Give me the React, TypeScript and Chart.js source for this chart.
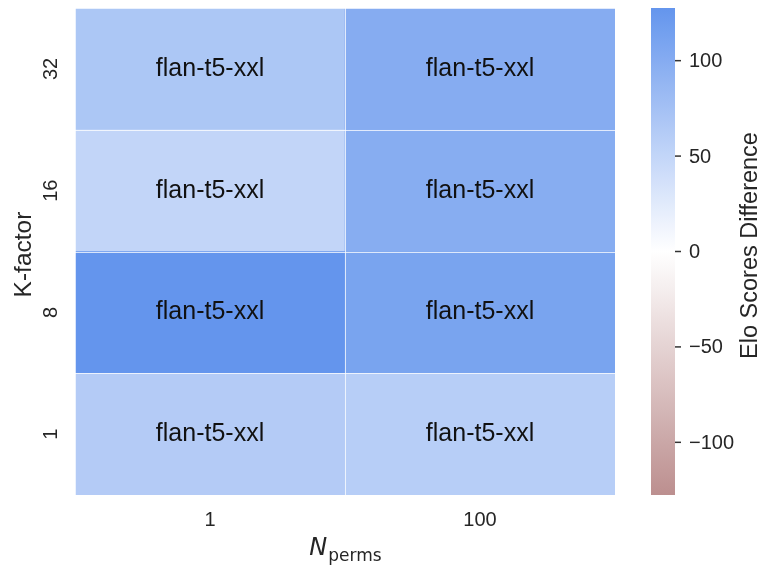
import React, { useEffect, useRef } from 'react';
import { Chart, registerables } from 'chart.js';

Chart.register(...registerables);

// ---- data ----
const nPerms = ['1', '100'];
const kFactors = ['1', '8', '16', '32']; // bottom to top
const cellLabel = 'flan-t5-xxl';
const eloK1 = [62, 59];
const eloK8 = [127.6, 110];
const eloK16 = [50, 99];
const eloK32 = [68, 100];
const colorbarTicks = [100, 50, 0, -50, -100];
const vLimit = 127.6;
const xTitleMain = 'N';
const xTitleSub = 'perms';
const yTitle = 'K-factor';
const cbTitle = 'Elo Scores Difference';

const rows = [eloK1, eloK8, eloK16, eloK32];

const NEG = [188, 143, 143];
const MID = [255, 255, 255];
const POS = [100, 149, 237];

function colorFor(v: number): string {
  let t = (v + vLimit) / (2 * vLimit);
  t = Math.max(0, Math.min(1, t));
  let a: number[], b: number[], f: number;
  if (t < 0.5) { a = NEG; b = MID; f = t / 0.5; } else { a = MID; b = POS; f = (t - 0.5) / 0.5; }
  const c = a.map((x, i) => Math.round(x + (b[i] - x) * f));
  return `rgb(${c[0]},${c[1]},${c[2]})`;
}

const SANS = '"Liberation Sans", Arial, sans-serif';
const TEXT = '#262626';

const heatPlugin = {
  id: 'heatExtras',
  afterDraw(chart: any) {
    const ctx: CanvasRenderingContext2D = chart.ctx;
    const xs = chart.scales.x;
    const ys = chart.scales.y;
    const cb = chart.scales.cb;
    const area = chart.chartArea;
    ctx.save();

    // cell separators
    ctx.strokeStyle = 'rgba(255,255,255,0.75)';
    ctx.lineWidth = 1;
    const xb: number[] = [area.left];
    for (let i = 0; i < nPerms.length - 1; i++) {
      xb.push((xs.getPixelForValue(i) + xs.getPixelForValue(i + 1)) / 2);
    }
    xb.push(area.right);
    xb.forEach((x) => {
      ctx.beginPath();
      ctx.moveTo(Math.round(x) + 0.5, area.top);
      ctx.lineTo(Math.round(x) + 0.5, area.bottom);
      ctx.stroke();
    });
    for (let r = 0; r <= kFactors.length; r++) {
      const y = Math.round(ys.getPixelForValue(r)) + 0.5;
      ctx.beginPath();
      ctx.moveTo(area.left, y);
      ctx.lineTo(area.right, y);
      ctx.stroke();
    }

    // annotations
    ctx.fillStyle = '#111';
    ctx.font = `25px ${SANS}`;
    ctx.textAlign = 'center';
    ctx.textBaseline = 'alphabetic';
    rows.forEach((vals, r) => {
      vals.forEach((_, c) => {
        const x = xs.getPixelForValue(c);
        const y = ys.getPixelForValue(r + 0.5);
        ctx.fillText(cellLabel, x, y + 7);
      });
    });

    // x tick labels
    ctx.fillStyle = TEXT;
    ctx.font = `20px ${SANS}`;
    nPerms.forEach((lab, c) => {
      ctx.fillText(lab, xs.getPixelForValue(c), area.bottom + 31);
    });

    // y tick labels (rotated)
    kFactors.forEach((lab, r) => {
      const y = ys.getPixelForValue(r + 0.5);
      ctx.save();
      ctx.translate(57, y);
      ctx.rotate(-Math.PI / 2);
      ctx.fillText(lab, 0, 0);
      ctx.restore();
    });

    // y title
    ctx.font = `24.5px ${SANS}`;
    ctx.save();
    ctx.translate(31, (area.top + area.bottom) / 2 + 3);
    ctx.rotate(-Math.PI / 2);
    ctx.fillText(yTitle, 0, 0);
    ctx.restore();

    // x title N_perms
    ctx.textAlign = 'left';
    ctx.font = `oblique 24px "DejaVu Sans", sans-serif`;
    const nW = ctx.measureText(xTitleMain).width;
    ctx.font = `17px "DejaVu Sans", sans-serif`;
    const sW = ctx.measureText(xTitleSub).width;
    const cx = (area.left + area.right) / 2;
    const startX = cx - (nW + sW) / 2;
    ctx.font = `oblique 24px "DejaVu Sans", sans-serif`;
    ctx.fillText(xTitleMain, startX, 555);
    ctx.font = `17px "DejaVu Sans", sans-serif`;
    ctx.fillText(xTitleSub, startX + nW + 1, 561);

    // colorbar
    const cbL = 651, cbR = 675;
    const top = cb.getPixelForValue(vLimit);
    const bot = cb.getPixelForValue(-vLimit);
    const grad = ctx.createLinearGradient(0, top, 0, bot);
    const steps = 20;
    for (let i = 0; i <= steps; i++) {
      const v = vLimit - (2 * vLimit * i) / steps;
      grad.addColorStop(i / steps, colorFor(v));
    }
    ctx.fillStyle = grad;
    ctx.fillRect(cbL, top, cbR - cbL, bot - top);

    ctx.strokeStyle = '#333';
    ctx.lineWidth = 1.5;
    ctx.fillStyle = TEXT;
    ctx.font = `20px ${SANS}`;
    ctx.textAlign = 'left';
    ctx.textBaseline = 'middle';
    colorbarTicks.forEach((t) => {
      const y = cb.getPixelForValue(t);
      ctx.beginPath();
      ctx.moveTo(cbR, y);
      ctx.lineTo(cbR + 6, y);
      ctx.stroke();
      const lab = t < 0 ? '\u2212' + Math.abs(t) : String(t);
      ctx.fillText(lab, cbR + 14, y + 1);
    });

    // colorbar title
    ctx.textAlign = 'center';
    ctx.textBaseline = 'alphabetic';
    ctx.font = `23.5px ${SANS}`;
    ctx.save();
    ctx.translate(757, (top + bot) / 2 - 6);
    ctx.rotate(-Math.PI / 2);
    ctx.fillText(cbTitle, 0, 0);
    ctx.restore();

    ctx.restore();
  },
};

export default function App() {
  const ref = useRef<HTMLCanvasElement>(null);
  useEffect(() => {
    document.body.style.margin = '0';
    const canvas = ref.current!;
    const chart = new Chart(canvas, {
      type: 'bar',
      data: {
        labels: nPerms,
        datasets: rows.map((vals, i) => ({
          label: kFactors[i],
          data: vals.map(() => 1),
          backgroundColor: vals.map(colorFor),
          borderWidth: 0,
          barPercentage: 1,
          categoryPercentage: 1,
        })),
      },
      options: {
        animation: false,
        responsive: false,
        devicePixelRatio: 1,
        layout: { padding: { left: 75, right: 150, top: 8, bottom: 74 } },
        scales: {
          x: { display: false, stacked: true },
          y: { display: false, stacked: true, min: 0, max: 4 },
          cb: { type: 'linear', display: false, position: 'right', min: -vLimit, max: vLimit },
        },
        plugins: { legend: { display: false }, tooltip: { enabled: false } },
      },
      plugins: [heatPlugin],
    } as any);
    return () => chart.destroy();
  }, []);
  return (
    <div style={{ width: 765, height: 569, background: '#fff' }}>
      <canvas ref={ref} width={765} height={569} style={{ display: 'block' }} />
    </div>
  );
}
